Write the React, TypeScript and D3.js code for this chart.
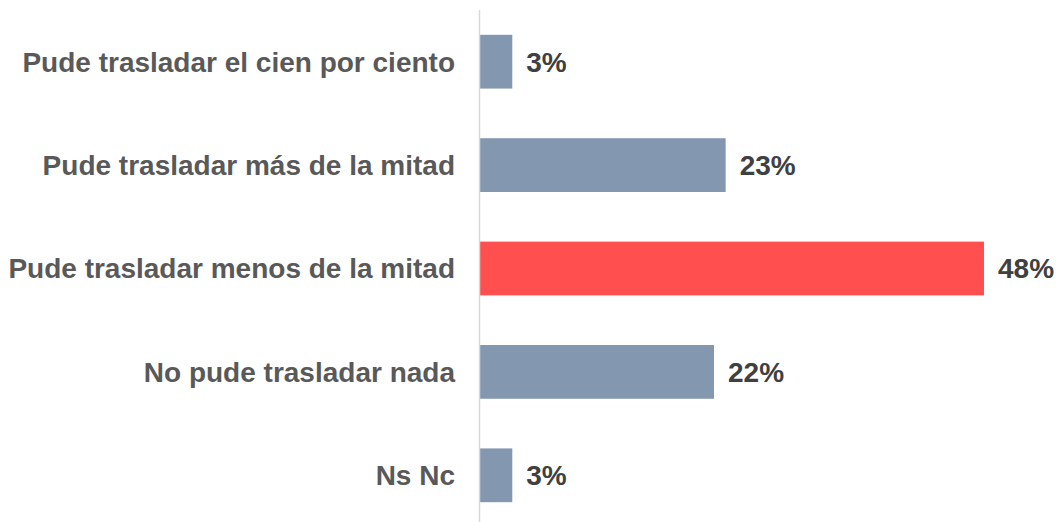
import React from "react";
import * as d3 from "d3";

const categories = [
  "Pude trasladar el cien por ciento",
  "Pude trasladar más de la mitad",
  "Pude trasladar menos de la mitad",
  "No pude trasladar nada",
  "Ns Nc",
];
const values = [3.05, 23.2, 47.6, 22.1, 3.05];
const highlighted = [false, false, true, false, false];

const W = 1064;
const H = 522;
const AXIS_X = 480;

export default function App() {
  const y = d3
    .scaleBand<string>()
    .domain(categories)
    .range([10, 527])
    .paddingInner(0.48)
    .paddingOuter(0.24);
  const x = d3.scaleLinear().domain([0, 47.6]).range([AXIS_X, 984]);
  const fmt = (v: number) => `${Math.round(v)}%`;
  const font = "'Liberation Sans', Arial, Helvetica, sans-serif";

  return (
    <svg
      width={W}
      height={H}
      style={{ position: "absolute", left: 0, top: 0, display: "block", background: "#fff" }}
    >
      {categories.map((c, i) => {
        const yy = y(c)!;
        const bw = y.bandwidth();
        const cy = yy + bw / 2;
        return (
          <g key={c}>
            <rect
              x={x(0)}
              y={yy}
              width={x(values[i]) - x(0)}
              height={bw}
              fill={highlighted[i] ? "#FF4F4F" : "#8497B0"}
            />
            <text
              x={455}
              y={cy}
              dy="0.35em"
              textAnchor="end"
              fontFamily={font}
              fontWeight="bold"
              fontSize={28}
              fill="#595959"
            >
              {c}
            </text>
            <text
              x={x(values[i]) + 14}
              y={cy}
              dy="0.35em"
              textAnchor="start"
              fontFamily={font}
              fontWeight="bold"
              fontSize={28}
              fill="#404040"
            >
              {fmt(values[i])}
            </text>
          </g>
        );
      })}
      <line x1={AXIS_X - 0.5} x2={AXIS_X - 0.5} y1={10} y2={H} stroke="#D9D9D9" strokeWidth={1.5} />
    </svg>
  );
}
